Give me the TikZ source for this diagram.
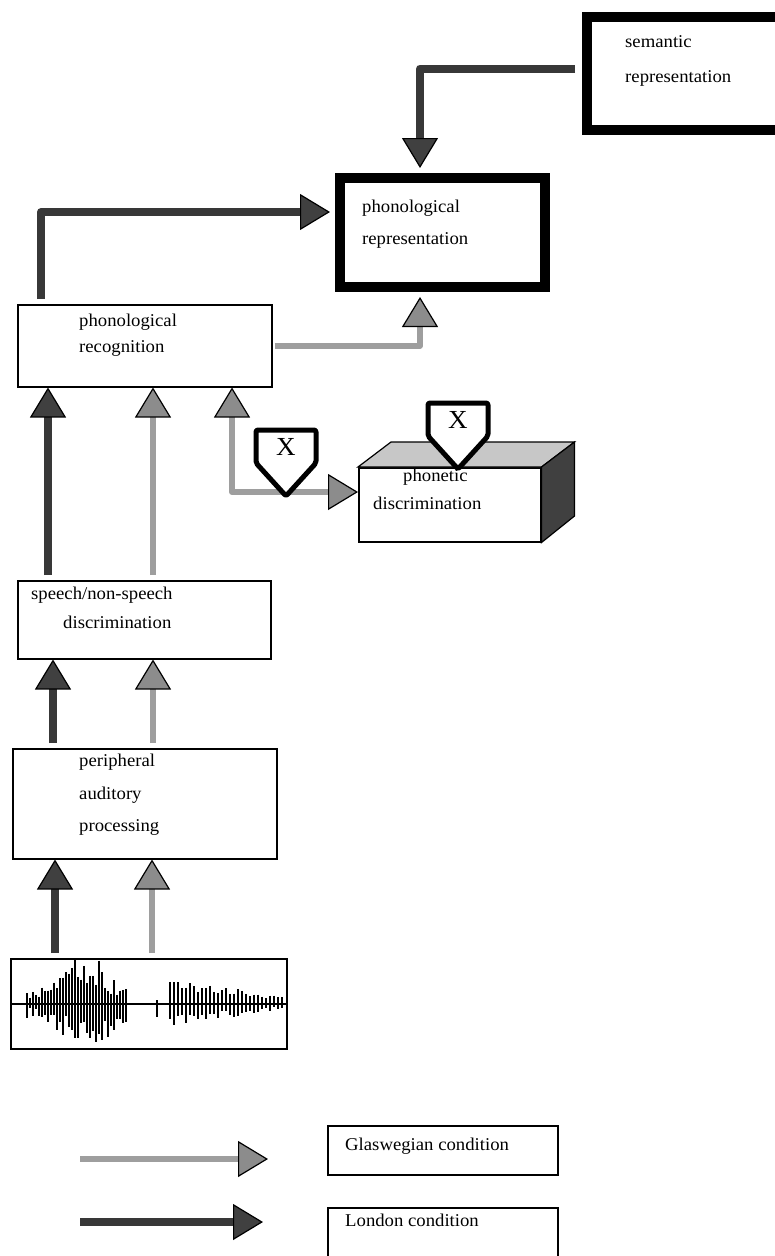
\documentclass[tikz,border=0pt]{standalone}
\usepackage{fontspec}
\setmainfont{Liberation Serif}[FakeStretch=1.04]
\usetikzlibrary{arrows.meta,calc}
\tikzset{
  glastip/.tip={Triangle[width=36pt,length=30pt,line width=1.2pt,color=black,fill=black!45]},
  londtip/.tip={Triangle[width=36pt,length=30pt,line width=1.2pt,color=black,fill=black!75]},
  xmark/.pic={
    \draw[line width=5pt,fill=white,line join=round,rounded corners=2pt]
      (-30,0) -- (30,0) -- (30,33) -- (0,66) -- (-30,33) -- cycle;
    \node[font=\fontsize{26}{26}\selectfont,inner sep=0pt] at (0,17) {X};
  }
}

\begin{document}
\begin{tikzpicture}[x=1pt,y=-1pt,
  box/.style={draw,line width=1.5pt,fill=white,anchor=north west,inner sep=0pt},
  thickbox/.style={box,line width=10pt},
  lbl/.style={font=\fontsize{18}{#1}\selectfont,align=left,inner sep=0pt,anchor=west},
  lbl/.default=28,
  glas/.style={draw=black!38,line width=6pt,line join=round,shorten <=5pt,-glastip},
  lond/.style={draw=black!78,line width=8pt,line join=round,shorten <=5pt,-londtip},
  spike/.style={line width=1.7pt}]
\useasboundingbox (0,0) rectangle (775,1256);
\clip (0,0) rectangle (775,1256);

% boxes
\node[thickbox,minimum width=208pt,minimum height=113pt] (sem) at (582,12) {};
\node[lbl=35] (sem-t) at (625,60.5) {semantic\\representation};
\node[thickbox,minimum width=205pt,minimum height=109pt] (rep) at (335,173) {};
\node[lbl=32] (rep-t) at (362,224) {phonological\\representation};
\node[box,minimum width=254pt,minimum height=82pt] (rec) at (17,304) {};
\node[lbl=26] (rec-t) at (79,335) {phonological\\recognition};
\node[box,minimum width=253pt,minimum height=78pt] (spch) at (17,580) {};
\node[lbl=29] (spch-t) at (31,607.5) {speech/non-speech\\\hspace*{32pt}discrimination};
\node[box,minimum width=264pt,minimum height=110pt] (peri) at (12,748) {};
\node[lbl=32.5] (peri-t) at (79,795) {peripheral\\auditory\\processing};

% phonetic discrimination block
\node[box,minimum width=182pt,minimum height=74pt] (phon) at (358,467) {};
\fill[black!22,draw=black,line width=1.2pt] (phon.north west) -- ++(33,-25)
  -- ($(phon.north east)+(33,-25)$) -- (phon.north east) -- cycle;
\fill[black!75,draw=black,line width=1.2pt] (phon.north east) -- ++(33,-25)
  -- ++(0,74) -- (phon.south east) -- cycle;
\node[lbl=28] (phon-t) at (373,489) {\hspace*{30pt}phonetic\\discrimination};

% speech wave
\node[box,minimum width=276pt,minimum height=90pt] (wave) at (10,958) {};
\draw[line width=1.5pt] (wave.west) -- (wave.east);
\pgfmathsetseed{5}
\foreach \x in {27,30,...,126}{
  \pgfmathsetmacro\amp{min(45,10+62/(1+((\x-85)/18)^2))}
  \pgfmathsetmacro\up{\amp*(0.3+0.7*rnd)}
  \pgfmathsetmacro\dn{\amp*(0.3+0.7*rnd)}
  \draw[spike] (\x,1003-\up) -- (\x,1003+\dn);
}
\draw[spike] (157,1000) -- (157,1017);
\foreach \x in {170,174,...,282}{
  \pgfmathsetmacro\amp{7+17*(282-\x)/112}
  \pgfmathsetmacro\up{\amp*(0.5+0.5*rnd)}
  \pgfmathsetmacro\dn{\amp*(0.5+0.5*rnd)}
  \draw[spike] (\x,1003-\up) -- (\x,1003+\dn);
}

% connectors
\draw[lond,shorten <=2pt] ($(sem.west)+(-5,-5)$) -| ($(rep.north west)+(85,-5)$);
\draw[lond] ($(rec.north west)+(24,0)$) |- ($(rep.north west)+(-5,39)$);
\draw[glas,shorten <=2pt] (rec.east) -| ($(rep.south west)+(85,5)$);
\draw[glas,glastip-glastip,shorten <=0pt] ($(rec.south west)+(215,0)$) |- ($(phon.north west)+(0,25)$);
\draw[lond] ($(spch.north west)+(31,0)$) -- ($(rec.south west)+(31,0)$);
\draw[glas] ($(spch.north west)+(136,0)$) -- ($(rec.south west)+(136,0)$);
\draw[lond] ($(peri.north west)+(41,0)$) -- ($(spch.south west)+(36,0)$);
\draw[glas] ($(peri.north west)+(141,0)$) -- ($(spch.south west)+(136,0)$);
\draw[lond] ($(wave.north west)+(45,0)$) -- ($(peri.south west)+(43,0)$);
\draw[glas] ($(wave.north west)+(142,0)$) -- ($(peri.south west)+(140,0)$);

% lesion markers
\pic at (286,430) {xmark};
\pic at (458,403) {xmark};

% legend
\coordinate (g0) at (80,1159);
\coordinate (g1) at (268,1159);
\draw[glas,shorten <=0pt] (g0) -- (g1);
\node[box,minimum width=230pt,minimum height=49pt] (gbox) at (327,1125) {};
\node[lbl] (g-t) at (345,1146) {Glaswegian condition};
\coordinate (l0) at (80,1222);
\coordinate (l1) at (263,1222);
\draw[lond,shorten <=0pt] (l0) -- (l1);
\node[box,minimum width=230pt,minimum height=55pt] (lbox) at (327,1207) {};
\node[lbl] (l-t) at (345,1220) {London condition};
\end{tikzpicture}
\end{document}
